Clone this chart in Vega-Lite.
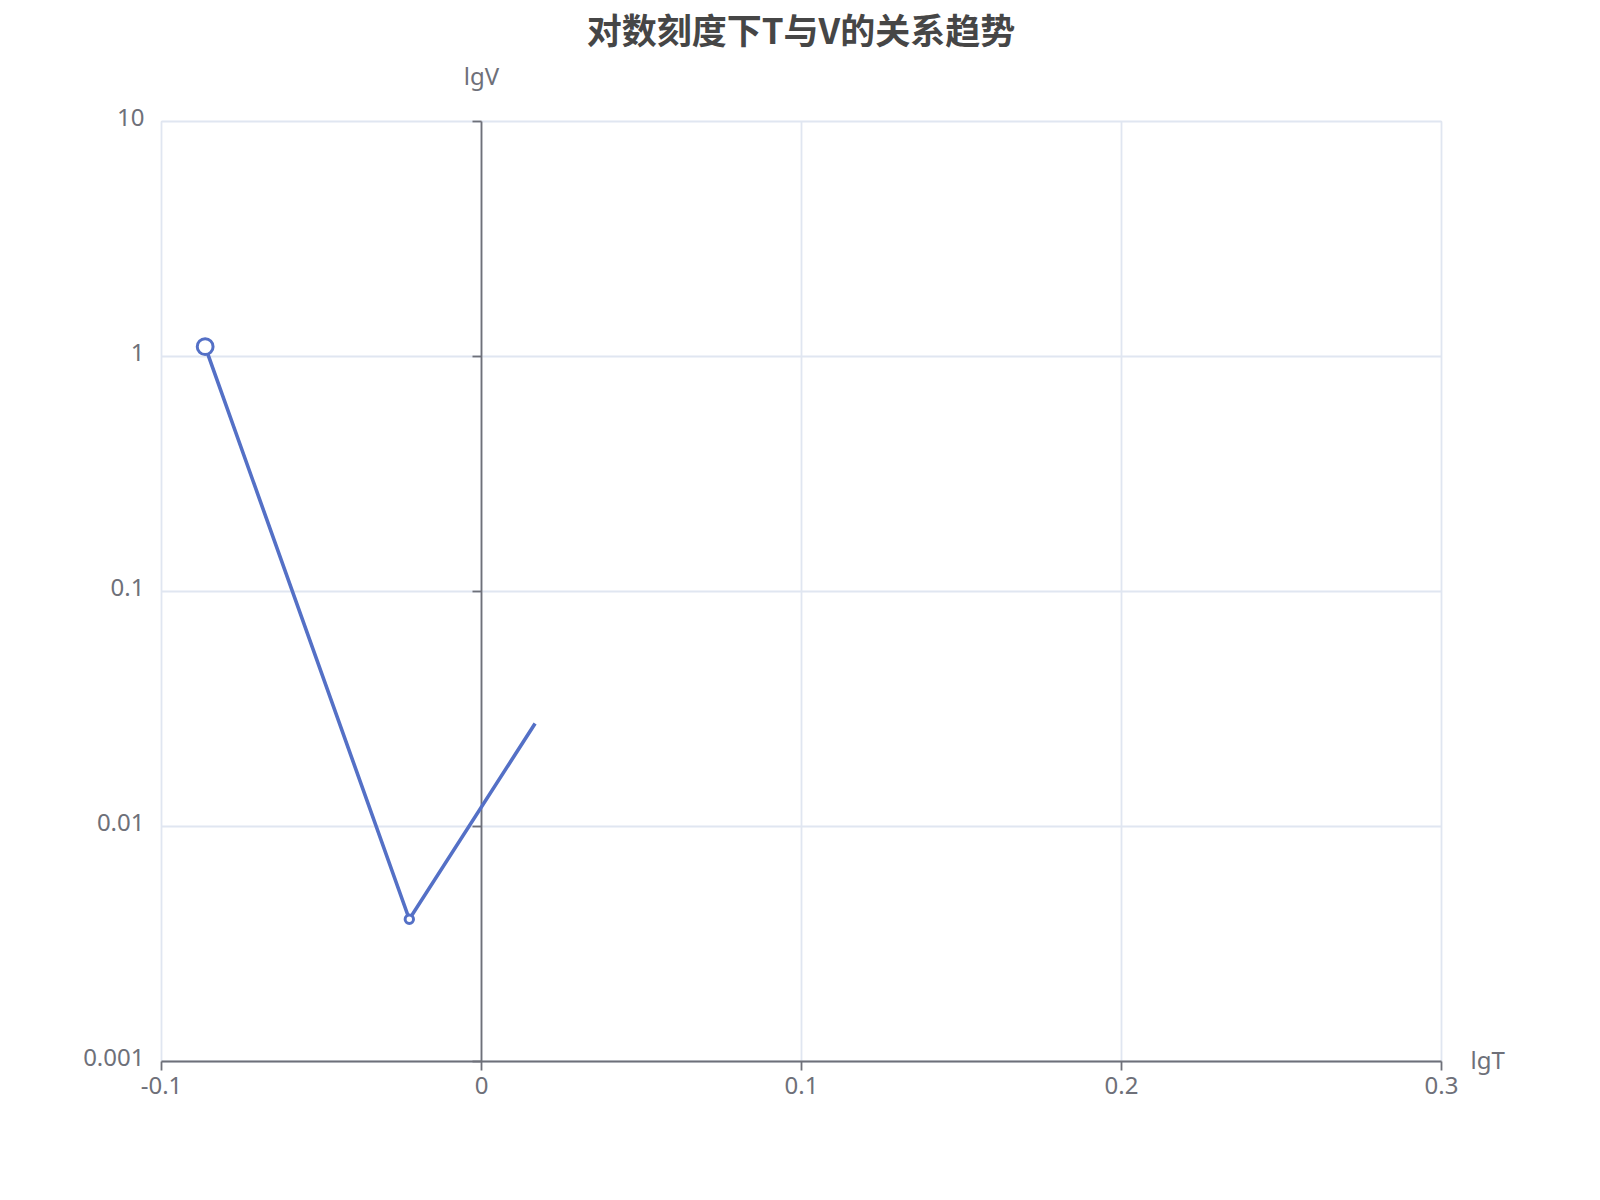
{
  "$schema": "https://vega.github.io/schema/vega-lite/v6.json",
  "width": 1280,
  "height": 940,
  "autosize": "none",
  "padding": {"left": 161, "top": 121, "right": 159, "bottom": 139},
  "background": "white",
  "title": {
    "text": "对数刻度下T与V的关系趋势",
    "anchor": "middle",
    "frame": "group",
    "font": "Noto Sans CJK SC",
    "fontSize": 35,
    "fontWeight": "bold",
    "color": "#464646",
    "offset": 14
  },
  "data": {
    "values": [
      {"T": -0.0862, "V": 1.096},
      {"T": -0.0224, "V": 0.00401},
      {"T": 0.0169, "V": 0.0273}
    ]
  },
  "layer": [
    {
      "mark": {"type": "line", "color": "#5470C6", "strokeWidth": 3.6},
      "encoding": {
        "x": {
          "field": "T",
          "type": "quantitative",
          "scale": {"domain": [-0.1, 0.3], "nice": false, "zero": false},
          "axis": {
            "values": [-0.1, 0, 0.1, 0.2, 0.3],
            "labelExpr": "'' + datum.value",
            "grid": true,
            "gridColor": "#E0E6F1",
            "gridWidth": 1.8,
            "domainColor": "#6E7079",
            "domainWidth": 1.8,
            "tickColor": "#6E7079",
            "tickWidth": 1.8,
            "tickSize": 9,
            "labelColor": "#6E7079",
            "labelFont": "Noto Sans",
            "labelFontSize": 24,
            "labelPadding": 4,
            "labelFlush": false,
            "title": "lgT",
            "titleX": 1309,
            "titleY": 0,
            "titleAlign": "left",
            "titleBaseline": "middle",
            "titleAngle": 0,
            "titleFont": "Noto Sans",
            "titleFontSize": 24,
            "titleFontWeight": "normal",
            "titleColor": "#6E7079"
          }
        },
        "y": {
          "field": "V",
          "type": "quantitative",
          "scale": {"type": "log", "domain": [0.001, 10], "nice": false},
          "axis": {
            "values": [0.001, 0.01, 0.1, 1, 10],
            "labelExpr": "'' + datum.value",
            "grid": true,
            "gridColor": "#E0E6F1",
            "gridWidth": 1.8,
            "domain": false,
            "ticks": false,
            "labelPadding": 17,
            "labelOffset": -3,
            "labelColor": "#6E7079",
            "labelFont": "Noto Sans",
            "labelFontSize": 24,
            "labelFlush": false,
            "title": null
          }
        }
      }
    },
    {
      "transform": [{"filter": "datum.T < 0"}],
      "mark": {"type": "point", "fill": "white", "stroke": "#5470C6", "strokeWidth": 3, "opacity": 1},
      "encoding": {
        "x": {"field": "T", "type": "quantitative"},
        "y": {
          "field": "V",
          "type": "quantitative",
          "axis": {
            "orient": "left",
            "values": [0.001, 0.01, 0.1, 1, 10],
            "offset": -320,
            "labels": false,
            "grid": false,
            "domain": true,
            "domainColor": "#6E7079",
            "domainWidth": 1.8,
            "ticks": true,
            "tickSize": 9,
            "tickColor": "#6E7079",
            "tickWidth": 1.8,
            "title": "lgV",
            "titleAngle": 0,
            "titleX": 0,
            "titleY": -44,
            "titleAlign": "center",
            "titleBaseline": "middle",
            "titleFont": "Noto Sans",
            "titleFontSize": 24,
            "titleFontWeight": "normal",
            "titleColor": "#6E7079"
          }
        },
        "size": {"condition": {"test": "datum.V > 0.5", "value": 250}, "value": 70}
      }
    }
  ],
  "resolve": {"axis": {"y": "independent"}}
}
